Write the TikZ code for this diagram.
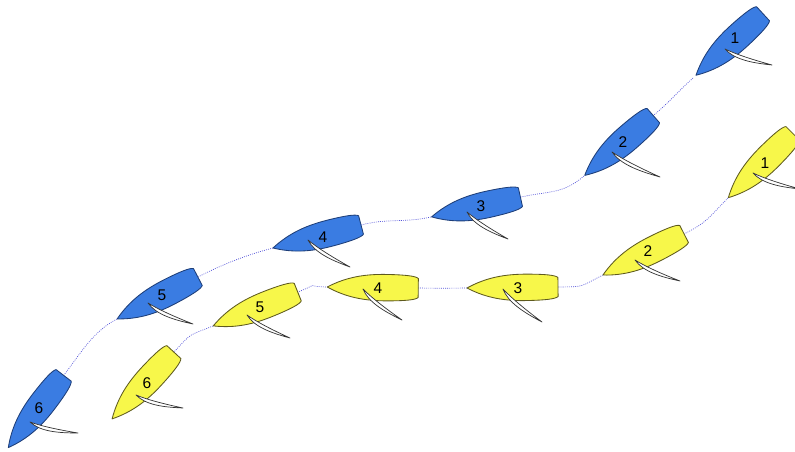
\documentclass[tikz,border=0pt]{standalone}
\usepackage{fontspec}
\setmainfont{Liberation Sans}
\usetikzlibrary{calc}
\definecolor{hullblue}{HTML}{3A7CE2}
\definecolor{hullyellow}{HTML}{F7F74A}
\definecolor{edgeblue}{HTML}{1E3E78}
\definecolor{edgeyellow}{HTML}{5E5A1E}
\definecolor{trackcol}{HTML}{5050D8}
\tikzset{
 hullpath/.style={line width=0.85pt, line join=round},
 bluehull/.style={hullpath, fill=hullblue, draw=edgeblue},
 yellowhull/.style={hullpath, fill=hullyellow, draw=edgeyellow},
 sailstyle/.style={fill=white, draw=black!80, line width=0.7pt, line join=round},
 track/.style={draw=trackcol, line width=0.65pt, dash pattern=on 0.9pt off 1.2pt},
 numlabel/.style={font=\fontsize{15.5}{15.5}\selectfont, text=black, inner sep=0pt},
}
\newcommand\boathull[3]{%
  \path let \p1=($(#2)-(#3)$) in \pgfextra{\pgfmathsetmacro\tmpang{atan2(\y1,\x1)}\global\let\hullangle\tmpang};
  \begin{scope}[shift={($(#2)!0.5!(#3)$)}, rotate=\hullangle]
    \draw[#1] (45.5,0) .. controls (26,10.5) and (7,13.5) .. (-15,13.2) .. controls (-32,13) and (-43,12) .. (-45.5,9.5) -- (-45.5,-9.5) .. controls (-43,-12) and (-32,-13) .. (-15,-13.2) .. controls (7,-13.5) and (26,-10.5) .. cycle;
  \end{scope}}
\newcommand\boatsail[2]{%
  \path let \p1=($(#2)-(#1)$) in \pgfextra{\pgfmathsetmacro\tmpa{atan2(\y1,\x1)}\pgfmathsetmacro\tmpl{veclen(\x1,\y1)}\global\let\sailangle\tmpa\global\let\saillen\tmpl};
  \begin{scope}[shift={(#1)}, rotate=\sailangle]
    \draw[sailstyle] (0,0) .. controls ({0.25*\saillen},7) and ({0.6*\saillen},4.5) .. (\saillen,0) .. controls ({0.6*\saillen},1.2) and ({0.25*\saillen},1.5) .. cycle;
  \end{scope}}
\begin{document}
\begin{tikzpicture}[x=1pt,y=-1pt]
\useasboundingbox (0,0) rectangle (795,452);
\clip (0,0) rectangle (795,452);
% blue fleet
\coordinate (bb1) at (693,78);  \coordinate (bs1) at (766,11);  \coordinate (bm1) at (725,49);  \coordinate (bt1) at (772,65);
\coordinate (bb2) at (584,176); \coordinate (bs2) at (654,115); \coordinate (bm2) at (612,152); \coordinate (bt2) at (660,177);
\coordinate (bb3) at (431,217); \coordinate (bs3) at (521,197); \coordinate (bm3) at (467,212); \coordinate (bt3) at (508,239);
\coordinate (bb4) at (273,248); \coordinate (bs4) at (361,225); \coordinate (bm4) at (308,240); \coordinate (bt4) at (350,267);
\coordinate (bb5) at (117,319); \coordinate (bs5) at (198,277); \coordinate (bm5) at (148,303); \coordinate (bt5) at (193,324);
\coordinate (bb6) at (8,448);   \coordinate (bs6) at (64,375);  \coordinate (bm6) at (30,422);  \coordinate (bt6) at (78,433);
% yellow fleet
\coordinate (yb1) at (728,198); \coordinate (ys1) at (793,133); \coordinate (ym1) at (753,173); \coordinate (yt1) at (800,189);
\coordinate (yb2) at (603,275); \coordinate (ys2) at (684,234); \coordinate (ym2) at (635,260); \coordinate (yt2) at (680,281);
\coordinate (yb3) at (467,288); \coordinate (ys3) at (558,287); \coordinate (ym3) at (503,289); \coordinate (yt3) at (542,322);
\coordinate (yb4) at (328,287); \coordinate (ys4) at (417.5,288); \coordinate (ym4) at (363,289); \coordinate (yt4) at (402,320);
\coordinate (yb5) at (213,326); \coordinate (ys5) at (298,292); \coordinate (ym5) at (247,315); \coordinate (yt5) at (290,338);
\coordinate (yb6) at (112,419); \coordinate (ys6) at (174,352); \coordinate (ym6) at (136,395); \coordinate (yt6) at (183,408);
% tracks
\foreach \f in {b,y}{
  \foreach \i [evaluate=\i as \j using int(\i+1)] in {1,...,5}{
    \draw[track] (\f b\i) .. controls ($(\f b\i)!-0.3!(\f s\i)$) and ($(\f s\j)!-0.3!(\f b\j)$) .. (\f s\j);
  }
}
% boats
\foreach \i in {1,...,6}{
  \boathull{bluehull}{bb\i}{bs\i}
  \boatsail{bm\i}{bt\i}
  \boathull{yellowhull}{yb\i}{ys\i}
  \boatsail{ym\i}{yt\i}
}
% labels
\node[numlabel] (bl1) at (735,38) {1};
\node[numlabel] (bl2) at (623,142) {2};
\node[numlabel] (bl3) at (481,206) {3};
\node[numlabel] (bl4) at (323,237) {4};
\node[numlabel] (bl5) at (162,295) {5};
\node[numlabel] (bl6) at (39,408) {6};
\node[numlabel] (yl1) at (765,163) {1};
\node[numlabel] (yl2) at (648,251) {2};
\node[numlabel] (yl3) at (518,288) {3};
\node[numlabel] (yl4) at (378,288) {4};
\node[numlabel] (yl5) at (260,307) {5};
\node[numlabel] (yl6) at (147,383) {6};
\end{tikzpicture}
\end{document}
